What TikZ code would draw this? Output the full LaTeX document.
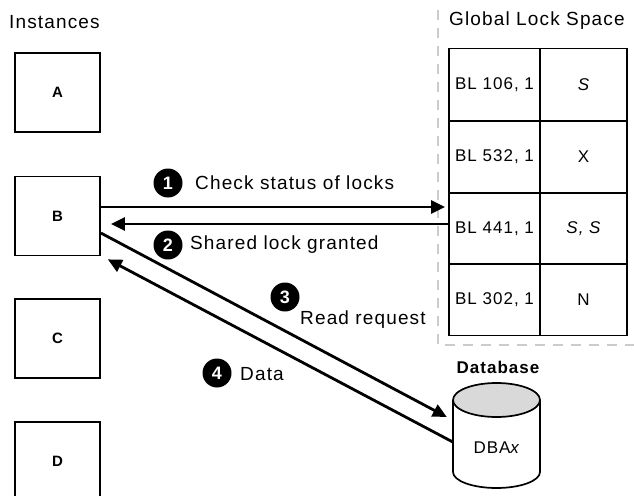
\documentclass[tikz,border=0pt]{standalone}
\usepackage{fontspec}
\setmainfont{Liberation Sans}[LetterSpace=6]
\usetikzlibrary{arrows.meta}
\begin{document}
\begin{tikzpicture}[x=1pt,y=-1pt,
  inst/.style={draw, line width=1.7pt, minimum width=85pt, minimum height=79pt, inner sep=0pt, font=\fontsize{15}{15}\selectfont\bfseries},
  cell/.style={draw, line width=1.7pt, minimum height=72pt, inner sep=0pt, font=\fontsize{17}{17}\selectfont},
  cola/.style={cell, minimum width=91pt},
  colb/.style={cell, minimum width=87pt},
  num/.style={circle, fill=black, text=white, minimum size=29pt, inner sep=0pt, font=\fontsize{18}{18}\selectfont\bfseries},
  lbl/.style={anchor=west, inner sep=0pt, font=\fontsize{19}{19}\selectfont},
  head/.style={inner sep=0pt, font=\fontsize{19}{19}\selectfont},
  arr/.style={line width=2.8pt, -{Triangle[length=14pt,width=13pt]}},
  dashline/.style={draw=gray!40, line width=1.4pt, dash pattern=on 10pt off 8pt}
]
\clip (0,0) rectangle (634,495);
\fill[white] (0,0) rectangle (634,495);

% headings
\node[head, anchor=west] (hinst) at (9,22) {Instances};
\node[head, anchor=west] (hgls) at (449,21) {Global Lock Space};
\node[head, font=\fontsize{17}{17}\selectfont\bfseries] (hdb) at (498,367) {Database};

% instances
\node[inst] (A) at (57.5,92.5) {A};
\node[inst] (B) at (57.5,216) {B};
\node[inst] (C) at (57.5,338.5) {C};
\node[inst] (D) at (57.5,461.5) {D};

% dashed boundary
\draw[dashline] (438,10) -- (438,345) -- (640,345);

% lock table
\node[cola] (r1a) at (494.5,84.5) {BL 106, 1};
\node[colb] (r1b) at (583.5,84.5) {\itshape S};
\node[cola] (r2a) at (494.5,157) {BL 532, 1};
\node[colb] (r2b) at (583.5,157) {X};
\node[cola] (r3a) at (494.5,228.5) {BL 441, 1};
\node[colb] (r3b) at (583.5,228.5) {\itshape S, S};
\node[cola] (r4a) at (494.5,299.5) {BL 302, 1};
\node[colb] (r4b) at (583.5,299.5) {N};

% database cylinder
\draw[line width=1.7pt, fill=white] (453,400) -- (453,472) arc[start angle=180, end angle=360, x radius=43.5pt, y radius=16pt] -- (540,400);
\draw[line width=1.7pt, fill=gray!30] (496.5,400) ellipse[x radius=43.5pt, y radius=17pt];
\node[minimum width=87pt, minimum height=106pt, inner sep=0pt] (db) at (496.5,435) {};
\node[inner sep=0pt, font=\fontsize{17}{17}\selectfont] (dbx) at (497,448) {DBA\textit{x}};

% connectors
\coordinate (y1) at (0,207);
\coordinate (y2) at (0,224);
\draw[arr] (B.east |- y1) -- ([xshift=-3pt]r3a.west |- y1);
\draw[arr, shorten >=10pt] (r3a.west |- y2) -- (B.east |- y2);
\draw[arr] ([yshift=-17pt]B.east) -- ([xshift=-6pt,yshift=18pt]db.west);
\draw[arr] ([yshift=-7pt]db.west) -- ([xshift=7pt,yshift=-3pt]B.south east);

% labels
\node[num] (n1) at (168,183) {1};
\node[lbl] (t1) at (195,183) {Check status of locks};
\node[num] (n2) at (168,245) {2};
\node[lbl] (t2) at (190,245) {Shared lock granted};
\node[num] (n3) at (285,297) {3};
\node[lbl] (t3) at (300,320) {Read request};
\node[num] (n4) at (217,373) {4};
\node[lbl] (t4) at (240,374) {Data};
\end{tikzpicture}
\end{document}
